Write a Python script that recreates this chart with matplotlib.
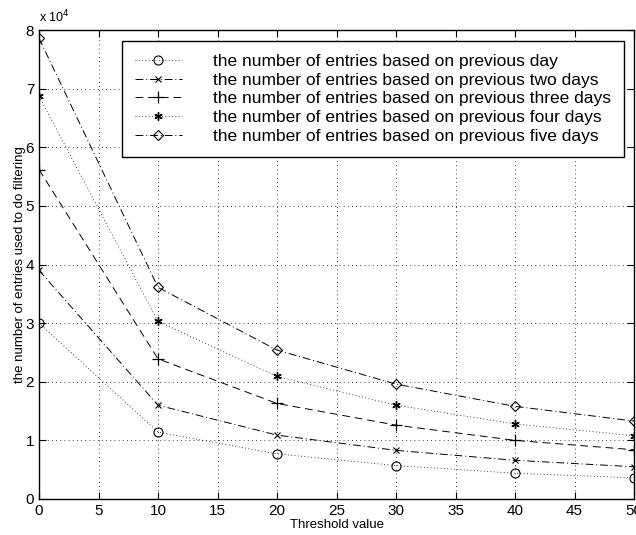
import matplotlib
matplotlib.use('Agg')
import matplotlib.pyplot as plt
import numpy as np

plt.rcParams['font.family'] = ['Liberation Sans', 'DejaVu Sans']

thresholds = [0, 10, 20, 30, 40, 50]
one_day = [30000, 11400, 7700, 5700, 4400, 3600]
two_days = [39000, 16000, 10900, 8300, 6600, 5500]
three_days = [56200, 23900, 16300, 12600, 10000, 8400]
four_days = [68700, 30300, 20900, 16000, 12800, 10800]
five_days = [78600, 36100, 25400, 19600, 15800, 13300]

labels = ['the number of entries based on previous day',
          'the number of entries based on previous two days',
          'the number of entries based on previous three days',
          'the number of entries based on previous four days',
          'the number of entries based on previous five days']

fig = plt.figure(figsize=(6.36, 5.35), dpi=100)
ax = fig.add_axes([39 / 636, 1 - 499 / 535, 595 / 636, 469 / 535])

scale = 1e4
ax.plot(thresholds, np.array(one_day) / scale, color='k', lw=0.6, ls=(0, (1, 3)),
        marker='o', ms=6.5, mfc='none', mew=0.8, label=labels[0])
ax.plot(thresholds, np.array(two_days) / scale, color='k', lw=0.7, ls=(0, (8, 3, 1, 3)),
        marker='x', ms=5, mew=0.8, label=labels[1])
ax.plot(thresholds, np.array(three_days) / scale, color='k', lw=0.7, ls=(0, (8, 5)),
        marker='+', ms=8, mew=0.9, label=labels[2])
ax.plot(thresholds, np.array(four_days) / scale, color='k', lw=0.6, ls=(0, (1, 3)),
        marker=(6, 2, 0), ms=6, mew=1.0, label=labels[3])
ax.plot(thresholds, np.array(five_days) / scale, color='k', lw=0.7, ls=(0, (8, 3, 1, 3)),
        marker='D', ms=5.5, mfc='none', mew=0.8, label=labels[4])

ax.set_xlim(0, 50)
ax.set_ylim(0, 8)
ax.set_xticks(range(0, 51, 5))
ax.set_yticks(range(0, 9))
ax.grid(True, color='k', ls=(0, (1, 4)), lw=0.6)
ax.tick_params(direction='in', top=True, right=True, labelsize=11, length=5, width=0.8)
for s in ax.spines.values():
    s.set_linewidth(1.0)

ax.text(0.0, 1.01, 'x 10$^4$', transform=ax.transAxes, fontsize=9, va='bottom', ha='left')
ax.set_xlabel('Threshold value', fontsize=9.5, labelpad=1)
ax.set_ylabel('the number of entries used to do filtering', fontsize=9.5, labelpad=0)

leg = ax.legend(loc='upper right', bbox_to_anchor=(585 / 595, 1 - 11 / 469), fontsize=12.5,
                fancybox=False, framealpha=1, edgecolor='k', handlelength=2.7,
                handletextpad=1.8, labelspacing=0.2, borderpad=0.75, borderaxespad=0)
leg.get_frame().set_linewidth(1.0)

fig.savefig('out.png', dpi=100)
